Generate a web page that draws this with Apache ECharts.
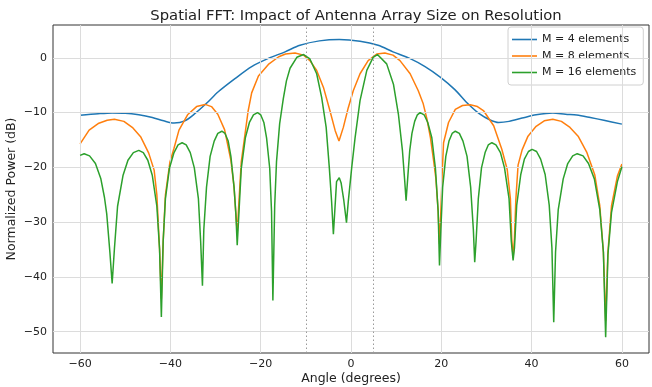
<!DOCTYPE html>
<html><head><meta charset="utf-8">
<script src="https://cdn.jsdelivr.net/npm/echarts@6/dist/echarts.min.js"></script>
<style>html,body{margin:0;padding:0;background:#fff}#c{width:652px;height:387px}</style>
</head><body><div id="c"></div>
<script>
const xTicks = [-60, -40, -20, 0, 20, 40, 60];
const yTicks = [-50, -40, -30, -20, -10, 0];
const sourceAngles = [-10, 5];
const seriesNames = ['M = 4 elements', 'M = 8 elements', 'M = 16 elements'];

const m4Angle = [-60,-56,-52.9,-50,-47,-44,-41.5,-39.2,-36.8,-34.6,-32,-29.4,-25.7,-22,-18.3,-14.6,-11.3,-7,-2.6,2,6,9.3,13,16.4,19.9,23,25.8,28.4,30.7,32.7,35,37.9,41,44.7,47.5,50,53,56,60];
const m4Power = [-10.5,-10.2,-10.05,-10.1,-10.4,-10.9,-11.5,-11.9,-11.5,-10.2,-8.3,-6.2,-3.8,-1.6,-0.1,1.1,2.3,3.1,3.36,3.05,2.3,1.1,-0.1,-1.6,-3.6,-5.8,-8.3,-10.2,-11.3,-11.8,-11.6,-11.0,-10.4,-10.05,-10.3,-10.45,-10.9,-11.4,-12.1];

const m8Angle = [-60,-58,-56,-54,-52.4,-50.3,-48.3,-46.6,-44.8,-43.6,-43.0,-42.4,-42.0,-41.6,-41.1,-40.1,-39.2,-38.1,-36.2,-34.2,-32.3,-30.9,-29.5,-28.0,-26.6,-25.9,-25.5,-25.2,-24.8,-24.3,-23.5,-22.8,-22.0,-20.5,-18.3,-16.0,-14.5,-12.4,-10.5,-9.1,-7.6,-6.1,-4.65,-3.5,-2.66,-1.7,-0.6,0.5,2.0,3.8,5.7,7.5,9.3,10.85,13.1,14.9,16.0,16.8,17.6,18.3,18.8,19.3,19.6,19.9,20.2,20.5,21.6,23.1,24.7,26.4,28.0,29.4,31.6,33.4,34.6,35.3,35.6,35.9,36.2,36.5,37.0,37.9,39.2,41.0,42.8,44.7,46.6,48.5,50.3,52.2,54.0,55.1,55.9,56.4,56.9,57.7,59.0,60.0];
const m8Power = [-15.7,-13.2,-12.0,-11.4,-11.2,-11.6,-12.8,-14.4,-17.4,-20.5,-25.0,-34.9,-44.0,-33.5,-25.0,-19.0,-16.5,-13.2,-10.4,-8.9,-8.5,-8.9,-10.3,-13.1,-18.7,-23.6,-28.5,-32.0,-26.0,-19.0,-14.1,-9.8,-6.4,-3.3,-1.2,0.2,0.7,0.9,0.5,-0.5,-2.3,-5.4,-9.7,-13.3,-15.2,-12.7,-9.1,-6.0,-2.9,-0.5,0.7,0.9,0.5,-0.5,-2.9,-6.0,-8.4,-11.1,-14.6,-18.8,-22.0,-28.0,-34.0,-28.0,-21.0,-15.5,-11.8,-9.4,-8.7,-8.55,-8.9,-9.7,-12.4,-16.7,-20.4,-25.7,-33.0,-36.5,-33.0,-26.0,-19.6,-16.8,-14.3,-12.5,-11.5,-11.2,-11.6,-12.7,-14.3,-17.2,-21.4,-27.0,-35.5,-48.0,-35.5,-27.0,-21.6,-19.4];

const m16Angle = [-60,-59.1,-57.9,-56.6,-55.4,-54.6,-54.1,-53.4,-52.9,-52.4,-51.7,-50.5,-49.4,-48.2,-47.0,-46.0,-45.0,-44.0,-43.0,-42.4,-42.0,-41.6,-41.1,-40.2,-39.2,-38.3,-37.4,-36.5,-35.6,-34.7,-33.8,-33.3,-32.9,-32.6,-32.0,-31.2,-30.3,-29.5,-28.6,-27.9,-27.2,-26.6,-25.9,-25.5,-25.2,-24.8,-24.3,-23.4,-22.5,-21.6,-20.7,-20.0,-19.3,-18.7,-18.0,-17.6,-17.3,-16.9,-16.5,-15.8,-15.0,-14.3,-13.5,-12.0,-10.5,-9.1,-7.6,-6.5,-5.5,-4.8,-4.3,-3.9,-3.2,-2.6,-2.2,-1.6,-1.0,-0.6,0.15,0.9,2.0,3.5,4.9,5.85,7.9,9.4,10.5,11.4,11.9,12.2,12.6,13.0,13.5,14.1,14.7,15.3,16.2,17.0,17.9,18.7,19.3,19.6,19.9,20.3,21.0,21.7,22.4,23.1,24.0,24.8,25.7,26.5,27.1,27.4,27.7,28.2,28.9,29.7,30.4,31.2,32.1,33.1,34.0,35.0,35.5,35.9,36.2,36.7,37.6,38.4,39.3,40.1,41.1,42.0,43.0,43.9,44.5,44.9,45.3,45.9,47.0,48.0,49.1,50.1,51.4,52.6,53.9,55.1,55.9,56.4,56.9,57.7,59.0,60.0];
const m16Power = [-17.8,-17.5,-17.9,-19.3,-22.1,-25.5,-28.5,-35.5,-41.2,-34.9,-27.1,-21.5,-18.7,-17.3,-16.9,-17.3,-18.7,-21.5,-27.1,-34.9,-47.3,-33.5,-25.7,-20.1,-17.3,-15.9,-15.5,-15.9,-17.3,-20.1,-25.7,-33.5,-41.6,-31.4,-23.6,-18.0,-15.2,-13.8,-13.4,-13.8,-15.2,-18.0,-23.6,-28.5,-34.2,-28.0,-20.2,-14.6,-11.8,-10.4,-10.0,-10.4,-11.8,-14.6,-20.2,-28.0,-44.3,-27.0,-19.0,-12.0,-7.5,-4.2,-1.9,0.1,0.6,-0.2,-2.9,-7.2,-12.7,-20.1,-26.2,-32.2,-22.6,-21.9,-22.8,-26.0,-30.1,-26.2,-20.1,-14.6,-7.8,-2.3,0.1,0.6,-1.1,-4.8,-10.3,-17.0,-22.5,-26.1,-21.5,-17.0,-13.8,-11.6,-10.4,-10.0,-10.4,-11.8,-14.6,-20.2,-28.0,-37.9,-31.4,-23.6,-18.0,-15.2,-13.8,-13.4,-13.8,-15.2,-18.0,-23.6,-31.4,-37.3,-33.5,-25.7,-20.1,-17.3,-15.9,-15.5,-15.9,-17.3,-20.1,-25.7,-33.5,-37.0,-34.7,-26.9,-21.3,-18.5,-17.1,-16.7,-17.1,-18.5,-21.3,-26.9,-34.7,-48.3,-35.5,-27.7,-22.1,-19.3,-17.9,-17.5,-17.9,-19.3,-22.1,-27.7,-35.5,-51.0,-36.0,-28.2,-22.6,-19.9];

const colors = ['#1f77b4', '#ff7f0e', '#2ca02c'];
const font = 'DejaVu Sans';
const pairs = (a, p) => a.map((v, i) => [v, p[i]]);
const minusFmt = v => String(v).replace('-', '\u2212');

const gridLines = [];
xTicks.forEach(v => gridLines.push({ xAxis: v }));
yTicks.forEach(v => gridLines.push({ yAxis: v }));
sourceAngles.forEach(v => gridLines.push({ xAxis: v, lineStyle: { color: '#9a9a9a', type: [1.5, 2.5], width: 1 } }));

const chart = echarts.init(document.getElementById('c'), null, { renderer: 'canvas' });
chart.setOption({
  animation: false,
  backgroundColor: '#ffffff',
  textStyle: { fontFamily: font },
  title: {
    text: 'Spatial FFT: Impact of Antenna Array Size on Resolution',
    left: 351, top: 4, textAlign: 'center',
    textStyle: { fontFamily: font, fontSize: 14.8, fontWeight: 'normal', color: '#222' }
  },
  grid: { left: 53, right: 3, top: 25, bottom: 34, show: true, borderColor: '#333', borderWidth: 1, backgroundColor: 'transparent', containLabel: false, outerBoundsMode: 'none' },
  legend: {
    data: seriesNames.map((n, i) => ({ name: n, icon: 'rect', itemStyle: { color: colors[i] } })),
    orient: 'vertical', left: 508, top: 27,
    padding: [6, 7, 6, 4],
    itemWidth: 25, itemHeight: 1.6, itemGap: 3.5,
    backgroundColor: 'rgba(255,255,255,0.85)',
    borderColor: '#d0d0d0', borderWidth: 1, borderRadius: 3,
    textStyle: { fontFamily: font, fontSize: 11, color: '#222', lineHeight: 13 }
  },
  xAxis: {
    type: 'value', min: -66, max: 66,
    name: 'Angle (degrees)', nameLocation: 'middle', nameGap: 19, nameMoveOverlap: false,
    nameTextStyle: { fontFamily: font, fontSize: 12.5, color: '#222' },
    axisLine: { show: false },
    axisTick: { show: true, customValues: xTicks, length: 4, lineStyle: { color: '#333' } },
    axisLabel: { customValues: xTicks, formatter: minusFmt, fontFamily: font, fontSize: 11, color: '#222', margin: 6 },
    splitLine: { show: false }
  },
  yAxis: {
    type: 'value', min: -53.9, max: 6.0,
    name: 'Normalized Power (dB)', nameLocation: 'middle', nameGap: 35, nameRotate: 90, nameMoveOverlap: false,
    nameTextStyle: { fontFamily: font, fontSize: 12.5, color: '#222' },
    axisLine: { show: false },
    axisTick: { show: true, customValues: yTicks, length: 4, lineStyle: { color: '#333' } },
    axisLabel: { customValues: yTicks, formatter: minusFmt, fontFamily: font, fontSize: 11, color: '#222', margin: 6 },
    splitLine: { show: false }
  },
  series: [
    {
      name: 'gridlines', type: 'line', data: [], z: 1, silent: true,
      markLine: { silent: true, symbol: ['none', 'none'], label: { show: false }, animation: false,
        lineStyle: { color: '#dcdcdc', type: 'solid', width: 1 }, data: gridLines }
    },
    { name: seriesNames[0], type: 'line', data: pairs(m4Angle, m4Power), symbol: 'none', smooth: 0.3, z: 3,
      lineStyle: { color: colors[0], width: 1.5 }, itemStyle: { color: colors[0] } },
    { name: seriesNames[1], type: 'line', data: pairs(m8Angle, m8Power), symbol: 'none', z: 4,
      lineStyle: { color: colors[1], width: 1.5 }, itemStyle: { color: colors[1] } },
    { name: seriesNames[2], type: 'line', data: pairs(m16Angle, m16Power), symbol: 'none', z: 5,
      lineStyle: { color: colors[2], width: 1.5 }, itemStyle: { color: colors[2] } }
  ]
});
</script>
</body></html>
